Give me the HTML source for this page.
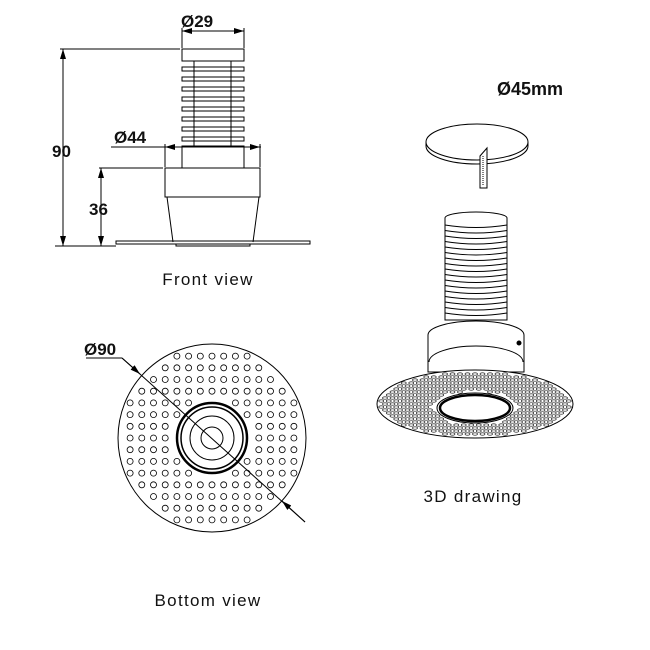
<!DOCTYPE html>
<html><head><meta charset="utf-8"><style>
html,body{margin:0;padding:0;background:#fff}
svg{display:block}
text{font-family:"Liberation Sans",sans-serif;fill:#111}
.lb{font-size:17px;letter-spacing:1.3px}
</style></head><body>
<svg id="s" width="650" height="650" viewBox="0 0 650 650" xmlns="http://www.w3.org/2000/svg">
<defs>
<marker id="a" viewBox="0 0 10 6" refX="10" refY="3" markerWidth="10" markerHeight="6" orient="auto-start-reverse" markerUnits="userSpaceOnUse"><path d="M0,0 L10,3 L0,6 z" fill="#000"/></marker>
</defs>
<g stroke="#000" stroke-width="1" fill="none">
<line x1="182" y1="31" x2="244" y2="31" marker-start="url(#a)" marker-end="url(#a)"/>
<line x1="182" y1="28" x2="182" y2="48"/><line x1="244" y1="28" x2="244" y2="48"/>
<line x1="60" y1="49" x2="180" y2="49"/>
<line x1="63" y1="49" x2="63" y2="246" marker-start="url(#a)" marker-end="url(#a)"/>
<line x1="55" y1="246" x2="116" y2="246"/>
<line x1="99" y1="168" x2="163" y2="168"/>
<line x1="101" y1="168" x2="101" y2="246" marker-start="url(#a)" marker-end="url(#a)"/>
<line x1="111" y1="147" x2="261" y2="147"/>
<line x1="180" y1="147" x2="165" y2="147" marker-end="url(#a)"/>
<line x1="245" y1="147" x2="260" y2="147" marker-end="url(#a)"/>
<line x1="165" y1="144" x2="165" y2="167"/><line x1="260" y1="144" x2="260" y2="167"/>
<rect x="182" y="49" width="62" height="12"/>
<line x1="194" y1="61" x2="194" y2="146"/><line x1="231" y1="61" x2="231" y2="146"/>
<g id="fins"></g>
<rect x="182" y="146" width="62" height="22"/>
<rect x="165" y="168" width="95" height="29"/>
<line x1="167" y1="197" x2="173" y2="242"/><line x1="259" y1="197" x2="253" y2="242"/>
<rect x="116" y="241" width="194" height="3"/>
<rect x="176" y="244" width="74" height="2"/>
<circle cx="212" cy="438" r="94"/>
<g id="holes" stroke-width="0.8"></g>
<circle cx="212" cy="438" r="35" stroke-width="2.5"/>
<circle cx="212" cy="438" r="31" stroke-width="1.5"/>
<circle cx="212" cy="438" r="22"/>
<circle cx="212" cy="438" r="11"/>
<line x1="86" y1="358" x2="122" y2="358"/>
<line x1="122" y1="358" x2="305" y2="522"/>
<line x1="122" y1="358" x2="140" y2="374" marker-end="url(#a)"/>
<line x1="305" y1="522" x2="282" y2="501" marker-end="url(#a)"/>
<path d="M426,142 v4 a51,18 0 0 0 102,0 v-4"/>
<ellipse cx="477" cy="142" rx="51" ry="18" fill="#fff"/>
<path d="M480,156 L487,148 L487,188 L480,188 Z" fill="#fff"/>
<line x1="483" y1="156" x2="483" y2="186" stroke-dasharray="1,1"/>
<path d="M445,218 a31,6 0 0 1 62,0 L507,320 L445,320 Z" fill="#fff"/>
<g id="fins3"></g>
<path d="M428,335 a48,14 0 0 1 96,0 L524,372 L428,372 Z" fill="#fff"/>
<path d="M429,362 a47,16 0 0 1 94,0"/>
<circle cx="519" cy="343" r="2" fill="#000"/>
<ellipse cx="475" cy="404" rx="98" ry="34" fill="#fff"/>
<g id="holes3" stroke-width="0.6"></g>
<ellipse cx="475" cy="408" rx="35" ry="13" fill="#fff" stroke-width="2.5"/>
<ellipse cx="475" cy="408" rx="38" ry="15"/>
</g>
<text x="181" y="27" font-size="17" font-weight="bold">Ø29</text>
<text x="114" y="143" font-size="17" font-weight="bold">Ø44</text>
<text x="52" y="157" font-size="17" font-weight="bold">90</text>
<text x="89" y="215" font-size="17" font-weight="bold">36</text>
<text x="84" y="355" font-size="17" font-weight="bold">Ø90</text>
<text x="497" y="95" font-size="18" font-weight="bold">Ø45mm</text>
<text x="208" y="285" class="lb" text-anchor="middle">Front view</text>
<text x="208" y="606" class="lb" text-anchor="middle">Bottom view</text>
<text x="473" y="502" class="lb" text-anchor="middle">3D drawing</text>
</svg>
<script>
var N="http://www.w3.org/2000/svg";
function el(p,t,a){var e=document.createElementNS(N,t);for(var k in a)e.setAttribute(k,a[k]);document.getElementById(p).appendChild(e);}
for(var i=0;i<8;i++){el("fins","rect",{x:182,y:67+i*10,width:62,height:4});}
for(var y=225;y<=316;y+=5.5){el("fins3","path",{d:"M445,"+y+" q31,5 62,0"});}
var s=11.7;
for(var r=-8;r<=8;r++)for(var c=-8;c<=8;c++){
 var x=212+c*s, yy=438+r*s;
 var d=Math.hypot(x-212,yy-438);
 if(d<90&&d>42) el("holes","circle",{cx:x,cy:yy,r:3});
}
for(var r=-11;r<=11;r++)for(var c=-14;c<=14;c++){
 var u=c*7.5+(r%2?3.75:0), v=r*3;
 if((u*u)/(95*95)+(v*v)/(32*32)<1 && (u*u)/(42*42)+((v-4)*(v-4))/(17*17)>1)
  el("holes3","ellipse",{cx:475+u,cy:404+v,rx:2.5,ry:1.2});
}
</script>
</body></html>
